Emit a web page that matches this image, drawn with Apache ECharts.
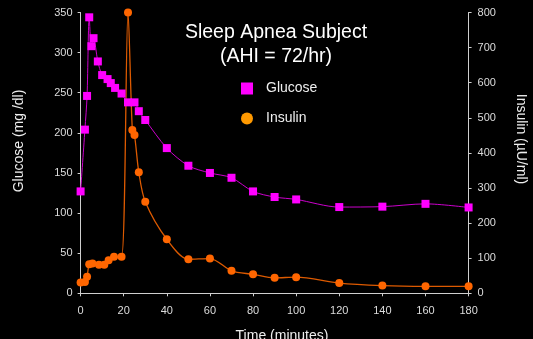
<!DOCTYPE html>
<html>
<head>
<meta charset="utf-8">
<script src="https://cdn.jsdelivr.net/npm/echarts@6/dist/echarts.min.js"></script>
<style>
  html, body { margin: 0; padding: 0; background: #000; }
  #chart { width: 533px; height: 339px; }
</style>
</head>
<body>
<div id="chart"></div>
<script>
// Glucose (mg/dl) sampled over time (minutes)
const glucoseTime  = [0, 2, 3, 4, 5, 6, 8, 10, 12.5, 14, 16, 19, 22, 25, 27, 30, 40, 50, 60, 70, 80, 90, 100, 120, 140, 160, 180];
const glucoseValue = [127, 204, 246, 344, 308, 318, 289, 272, 267, 262, 256, 249, 238, 238, 227, 216, 181, 159, 150, 144, 127, 120, 117, 107.5, 108, 111.5, 107];

// Insulin (µU/ml) sampled over time (minutes)
const insulinTime  = [0, 2, 3, 4, 5.5, 8.5, 11, 13, 15.5, 19, 22, 24, 25, 27, 30, 40, 50, 60, 70, 80, 90, 100, 120, 140, 160, 180];
const insulinValue = [31, 32, 47, 83, 85, 81, 81, 94, 104, 104, 800, 465, 451, 345, 261, 154, 97, 99, 64, 54, 44, 46, 29, 22, 20, 20];

// Axis ranges
const timeTicks = { min: 0, max: 180, interval: 20 };
const glucoseTicks = { min: 0, max: 350, interval: 50 };
const insulinTicks = { min: 0, max: 800, interval: 100 };

const FONT = '"Liberation Sans", Arial, sans-serif';
const AXIS_COLOR = '#cfcfcf';
const LABEL_COLOR = '#dcdcdc';

function pairs(xs, ys) { return xs.map((x, i) => [x, ys[i]]); }

const axisCommon = {
  type: 'value',
  splitLine: { show: false },
  axisLine: { show: true, lineStyle: { color: AXIS_COLOR, width: 1 } },
  axisTick: { show: true, inside: false, length: 3, lineStyle: { color: AXIS_COLOR } },
  axisLabel: { color: LABEL_COLOR, fontSize: 11, fontFamily: FONT }
};

const chart = echarts.init(document.getElementById('chart'), null, { renderer: 'canvas' });

chart.setOption({
  backgroundColor: '#000',
  animation: false,
  grid: { left: 80.6, right: 64.4, top: 12.5, bottom: 45.7, containLabel: false },
  xAxis: Object.assign({}, axisCommon, {
    min: timeTicks.min, max: timeTicks.max, interval: timeTicks.interval,
    axisLabel: Object.assign({}, axisCommon.axisLabel, { margin: 12 })
  }),
  yAxis: [
    Object.assign({}, axisCommon, {
      position: 'left',
      min: glucoseTicks.min, max: glucoseTicks.max, interval: glucoseTicks.interval,
      axisLabel: Object.assign({}, axisCommon.axisLabel, { margin: 8 })
    }),
    Object.assign({}, axisCommon, {
      position: 'right',
      min: insulinTicks.min, max: insulinTicks.max, interval: insulinTicks.interval,
      axisLabel: Object.assign({}, axisCommon.axisLabel, { margin: 9 })
    })
  ],
  legend: {
    orient: 'vertical',
    left: 236,
    top: 76.5,
    itemWidth: 12,
    itemHeight: 12,
    itemGap: 16,
    textStyle: { color: '#eeeeee', fontSize: 14, fontFamily: FONT, padding: [0, 0, 0, 8] },
    data: [
      { name: 'Glucose', icon: 'rect', itemStyle: { color: '#ff00ff' } },
      { name: 'Insulin', icon: 'circle', itemStyle: { color: '#ff9900' } }
    ]
  },
  graphic: [
    { type: 'text', x: 276, y: 33, style: { text: 'Sleep Apnea Subject', fill: '#ffffff', fontSize: 19.5, fontFamily: FONT, align: 'center', verticalAlign: 'middle' } },
    { type: 'text', x: 276, y: 57, style: { text: '(AHI = 72/hr)', fill: '#ffffff', fontSize: 19.5, fontFamily: FONT, align: 'center', verticalAlign: 'middle' } },
    { type: 'text', x: 19, y: 141, rotation: Math.PI / 2, style: { text: 'Glucose (mg /dl)', fill: '#eeeeee', fontSize: 14, fontFamily: FONT, align: 'center', verticalAlign: 'middle' } },
    { type: 'text', x: 521, y: 139, rotation: -Math.PI / 2, style: { text: 'Insulin (µU/ml)', fill: '#eeeeee', fontSize: 14, fontFamily: FONT, align: 'center', verticalAlign: 'middle' } },
    { type: 'text', x: 282, y: 336, style: { text: 'Time (minutes)', fill: '#eeeeee', fontSize: 14, fontFamily: FONT, align: 'center', verticalAlign: 'middle' } }
  ],
  series: [
    {
      name: 'Glucose',
      type: 'line',
      yAxisIndex: 0,
      data: pairs(glucoseTime, glucoseValue),
      smooth: 0.3,
      symbol: 'rect',
      symbolSize: 8,
      itemStyle: { color: '#ff00ff' },
      lineStyle: { color: '#cc00cc', width: 1 },
      z: 3
    },
    {
      name: 'Insulin',
      type: 'line',
      yAxisIndex: 1,
      data: pairs(insulinTime, insulinValue),
      smooth: 0.3,
      symbol: 'circle',
      symbolSize: 8,
      itemStyle: { color: '#ff6600' },
      lineStyle: { color: '#dd5a00', width: 1.3 },
      z: 2
    }
  ]
});
</script>
</body>
</html>
